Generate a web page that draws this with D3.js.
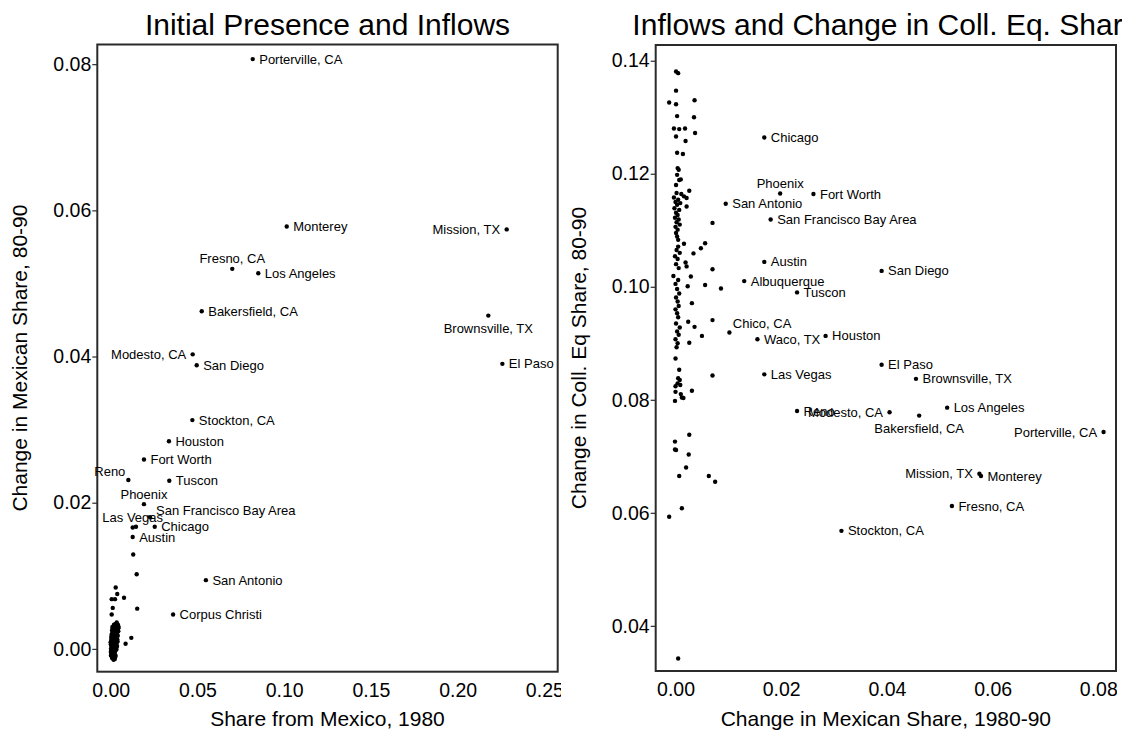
<!DOCTYPE html>
<html>
<head>
<meta charset="utf-8">
<script src="https://cdn.jsdelivr.net/npm/d3@7"></script>
<style>
  body { margin: 0; background: #fff; }
  svg { display: block; font-family: "Liberation Sans", Arial, Helvetica, sans-serif; }
</style>
</head>
<body>
<div id="chart"></div>
<script>
// ---- datos panel izquierdo: Share from Mexico 1980 vs cambio share mexicano ----
const leftCities = ["Porterville, CA", "Monterey", "Mission, TX", "Fresno, CA", "Los Angeles",
  "Bakersfield, CA", "Brownsville, TX", "Modesto, CA", "San Diego", "El Paso", "Stockton, CA",
  "Houston", "Fort Worth", "Reno", "Tuscon", "Phoenix", "San Francisco Bay Area", "Las Vegas",
  "Chicago", "Austin", "San Antonio", "Corpus Christi"]
const leftShare80 = [0.0819, 0.1015, 0.2283, 0.0701, 0.0851, 0.0525, 0.2177, 0.0473, 0.0496, 0.2258,
  0.0471, 0.0336, 0.0192, 0.0102, 0.0338, 0.0192, 0.0227, 0.0127, 0.0254, 0.0127, 0.0549, 0.0360]
const leftDMex = [0.0807, 0.0578, 0.0574, 0.0520, 0.0514, 0.0462, 0.0456, 0.0403, 0.0388, 0.0390,
  0.0313, 0.0284, 0.0259, 0.0231, 0.0230, 0.0198, 0.0180, 0.0166, 0.0167, 0.0153, 0.0094, 0.0047]

// ciudades sin etiqueta
const leftOtherShare80 = [0.0029, 0.0006, 0.0025, 0.0038, 0.0077, 0.0012, 0.0006, 0.0119, 0.0086, 0.0146,
  0.0130, 0.0150, 0.0153,
  0.0035, 0.0042, 0.0028, 0.0046, 0.0019, 0.0033, 0.0012, 0.0039, 0.0024, 0.0008, 0.0044, 0.0030, 0.0016,
  0.0036, 0.0021, 0.0005, 0.0041, 0.0027, 0.0013, 0.0033, 0.0009, 0.0024, 0.0038, 0.0003, 0.0017, 0.0029,
  0.0011, 0.0035, 0.0022, 0.0006, 0.0015, 0.0031, 0.0001, 0.0025, 0.0010, 0.0019, 0.0037, 0.0004, 0.0028,
  0.0014, 0.0007, 0.0021, 0.0002, 0.0033, 0.0011, 0.0017, 0.0005, 0.0026, 0.0001, 0.0013, 0.0022, 0.0008,
  0.0003, 0.0018, 0.0011, 0.0028, 0.0006, 0.0015, 0.0021, 0.0009, 0.0024, 0.0017,
  0.0020, 0.0026, 0.0032, 0.0012, 0.0004, 0.0016, 0.0040, 0.0030, 0.0008, 0.0023, 0.0014, 0.0035, 0.0019,
  0.0010, 0.0044, 0.0027, 0.0000, 0.0002]
const leftOtherDMex = [0.0084, 0.0068, 0.0068, 0.0075, 0.0070, 0.0056, 0.0047, 0.0015, 0.0007, 0.0167,
  0.0129, 0.0102, 0.0055,
  0.0036, 0.0033, 0.0034, 0.0030, 0.0031, 0.0029, 0.0028, 0.0026, 0.0027, 0.0025, 0.0024, 0.0023, 0.0022,
  0.0021, 0.0020, 0.0019, 0.0018, 0.0018, 0.0017, 0.0016, 0.0015, 0.0014, 0.0013, 0.0012, 0.0012, 0.0011,
  0.0010, 0.0009, 0.0009, 0.0008, 0.0007, 0.0007, 0.0006, 0.0005, 0.0005, 0.0004, 0.0004, 0.0003, 0.0002,
  0.0002, 0.0001, 0.0000, 0.0000, -0.0001, -0.0001, -0.0002, -0.0003, -0.0003, -0.0004, -0.0005, -0.0005, -0.0006,
  -0.0007, -0.0008, -0.0009, -0.0009, -0.0010, -0.0011, -0.0012, -0.0013, -0.0014, -0.0015,
  0.0015, 0.0024, 0.0031, 0.0005, 0.0016, 0.0027, 0.0010, 0.0015, 0.0021, -0.0007, -0.0002, 0.0003, 0.0033,
  0.0030, 0.0028, -0.0011, 0.0009, -0.0009]

// ---- datos panel derecho: cambio share mexicano vs cambio share college eq ----
const rightCities = ["Chicago", "Phoenix", "Fort Worth", "San Antonio", "San Francisco Bay Area", "Austin",
  "San Diego", "Albuquerque", "Tuscon", "Chico, CA", "Waco, TX", "Houston", "El Paso", "Las Vegas",
  "Brownsville, TX", "Reno", "Modesto, CA", "Los Angeles", "Bakersfield, CA", "Porterville, CA",
  "Mission, TX", "Monterey", "Fresno, CA", "Stockton, CA"]
const rightDMex = [0.0168, 0.0198, 0.0261, 0.0095, 0.0180, 0.0168, 0.0390, 0.0130, 0.0230, 0.0102, 0.0155,
  0.0284, 0.0390, 0.0168, 0.0455, 0.0230, 0.0405, 0.0514, 0.0461, 0.0810, 0.0575, 0.0578, 0.0523, 0.0314]
const rightDColl = [0.1264, 0.1165, 0.1164, 0.1147, 0.1119, 0.1044, 0.1028, 0.1010, 0.0990, 0.0919, 0.0907,
  0.0913, 0.0862, 0.0845, 0.0837, 0.0780, 0.0778, 0.0786, 0.0772, 0.0743, 0.0669, 0.0665, 0.0612, 0.0568]

const rightOtherDMex = [0.0001, 0.0005, 0.0001, -0.0012, 0.0001, 0.0036, 0.0003, 0.0035, -0.0003, 0.0007,
  0.0018, 0.0001, 0.0019, 0.0037, 0.0003, 0.0014, 0.0004, 0.0006, 0.0003, 0.0010, 0.0007, 0.0001, 0.0026,
  0.0002, 0.0011, 0.0016, -0.0003, 0.0021, 0.0005, 0.0000, 0.0009, 0.0003, 0.0021, -0.0002, 0.0007, 0.0001,
  0.0004, -0.0001, 0.0006, 0.0002, 0.0070, 0.0008, 0.0000, 0.0004, 0.0001, 0.0003, 0.0005,
  0.0016, 0.0056, 0.0048, 0.0034, 0.0005, 0.0002, 0.0008, -0.0001, 0.0004, 0.0019, 0.0021, 0.0070, 0.0001,
  0.0006, -0.0004, 0.0005, 0.0029, 0.0000, 0.0023, 0.0056, 0.0086, 0.0003, 0.0007, 0.0001, 0.0004, 0.0031,
  0.0006, 0.0000, 0.0003, 0.0005, 0.0070, 0.0024, 0.0036, 0.0001, 0.0008, 0.0003, 0.0050, 0.0006, 0.0026,
  0.0000, 0.0004, 0.0002,
  0.0000, 0.0007, 0.0005, 0.0008, 0.0070, 0.0004, 0.0000, 0.0009, 0.0031, 0.0000, 0.0010, 0.0015, 0.0012,
  -0.0001, -0.0001, 0.0001, -0.0001, 0.0026, 0.0025, 0.0020, 0.0007, 0.0063, 0.0075, 0.0012, -0.0012, 0.0005]
const rightOtherDColl = [0.1381, 0.1378, 0.1347, 0.1326, 0.1323, 0.1330, 0.1302, 0.1300, 0.1280, 0.1279,
  0.1280, 0.1266, 0.1258, 0.1272, 0.1237, 0.1235, 0.1210, 0.1207, 0.1198, 0.1190, 0.1189, 0.1180, 0.1170,
  0.1166, 0.1164, 0.1160, 0.1158, 0.1157, 0.1154, 0.1150, 0.1148, 0.1145, 0.1142, 0.1139, 0.1136, 0.1131,
  0.1127, 0.1122, 0.1119, 0.1114, 0.1113, 0.1110, 0.1106, 0.1101, 0.1095, 0.1089, 0.1083,
  0.1076, 0.1077, 0.1068, 0.1059, 0.1071, 0.1065, 0.1060, 0.1054, 0.1049, 0.1043, 0.1036, 0.1031, 0.1040,
  0.1033, 0.1019, 0.1012, 0.1018, 0.1005, 0.1001, 0.1003, 0.0997, 0.0996, 0.0988, 0.0981, 0.0974, 0.0971,
  0.0966, 0.0960, 0.0953, 0.0946, 0.0941, 0.0938, 0.0929, 0.0935, 0.0928, 0.0921, 0.0913, 0.0915, 0.0901,
  0.0907, 0.0900, 0.0893,
  0.0873, 0.0853, 0.0838, 0.0835, 0.0843, 0.0829, 0.0824, 0.0826, 0.0816, 0.0814, 0.0810, 0.0803, 0.0804,
  0.0798, 0.0726, 0.0711, 0.0712, 0.0738, 0.0703, 0.0680, 0.0665, 0.0665, 0.0655, 0.0608, 0.0593, 0.0342]

// posicion de etiqueta tipo reloj (como mlabposition de Stata)
const labelClock = {
  left: { "Mission, TX": 9, "Fresno, CA": 12, "Brownsville, TX": 6, "Modesto, CA": 9, "Reno": 10,
          "Phoenix": 12, "San Francisco Bay Area": 2, "Las Vegas": 12 },
  right: { "Phoenix": 12, "Chico, CA": 1, "Modesto, CA": 9, "Bakersfield, CA": 6,
           "Porterville, CA": 9, "Mission, TX": 9 }
}

const leftTicksX = [0, 0.05, 0.10, 0.15, 0.20, 0.25]
const leftTicksY = [0, 0.02, 0.04, 0.06, 0.08]
const rightTicksX = [0, 0.02, 0.04, 0.06, 0.08]
const rightTicksY = [0.04, 0.06, 0.08, 0.10, 0.12, 0.14]

const W = 1122, H = 738
const svg = d3.select("#chart").append("svg").attr("width", W).attr("height", H)
svg.append("rect").attr("width", W).attr("height", H).attr("fill", "#fff")
const defs = svg.append("defs")

const fmt = d3.format(".2f")

const offsets = (pos) => {
  switch (pos) {
    case 9: return { dx: -6.5, dy: 0, anchor: "end" }
    case 12: return { dx: 0, dy: -10, anchor: "middle" }
    case 6: return { dx: 0, dy: 12.5, anchor: "middle" }
    case 10: return { dx: -3, dy: -8.6, anchor: "end" }
    case 2: return { dx: 6, dy: -6.6, anchor: "start" }
    case 1: return { dx: 3.4, dy: -9, anchor: "start" }
    default: return { dx: 6.5, dy: 0, anchor: "start" }
  }
}

const drawPanel = (cfg) => {
  const x = d3.scaleLinear().domain(cfg.xDom).range([cfg.left, cfg.right])
  const y = d3.scaleLinear().domain(cfg.yDom).range([cfg.bottom, cfg.top])
  const g = svg.append("g")

  // titulo
  g.append("text")
    .attr("x", (cfg.left + cfg.right) / 2).attr("y", 35)
    .attr("text-anchor", "middle").attr("font-size", 30).attr("fill", "#000")
    .text(cfg.title)

  // eje y (ticks hacia fuera)
  const yAxis = g.append("g")
    .attr("transform", `translate(${cfg.left},0)`)
    .call(d3.axisLeft(y).tickValues(cfg.yTicks).tickFormat(fmt).tickSize(5).tickPadding(1))
  yAxis.select(".domain").remove()
  yAxis.selectAll("text").attr("font-size", 19.5).attr("font-family", null).attr("fill", "#000")

  // eje x (ticks hacia dentro), etiquetas recortadas
  defs.append("clipPath").attr("id", cfg.id + "clip")
    .append("rect").attr("x", cfg.clipLeft).attr("y", 0).attr("width", cfg.clipRight - cfg.clipLeft).attr("height", H)
  const xAxis = g.append("g")
    .attr("clip-path", `url(#${cfg.id}clip)`)
    .attr("transform", `translate(0,${cfg.bottom})`)
    .call(d3.axisBottom(x).tickValues(cfg.xTicks).tickFormat(fmt).tickSize(-6).tickPadding(11))
  xAxis.select(".domain").remove()
  xAxis.selectAll("text").attr("font-size", 19.5).attr("font-family", null).attr("fill", "#000")

  // marco
  g.append("rect")
    .attr("x", cfg.left).attr("y", cfg.top)
    .attr("width", cfg.right - cfg.left).attr("height", cfg.bottom - cfg.top)
    .attr("fill", "none").attr("stroke", "#2a2a2a").attr("stroke-width", 2)

  // titulos de ejes
  g.append("text")
    .attr("x", (cfg.left + cfg.right) / 2).attr("y", 726)
    .attr("text-anchor", "middle").attr("font-size", 21).text(cfg.xTitle)
  g.append("text")
    .attr("transform", `translate(${cfg.yTitleX},${(cfg.top + cfg.bottom) / 2}) rotate(-90)`)
    .attr("text-anchor", "middle").attr("font-size", 21).text(cfg.yTitle)

  // puntos sin etiqueta
  g.append("g").selectAll("circle")
    .data(d3.range(cfg.otherX.length))
    .join("circle")
    .attr("cx", (i) => x(cfg.otherX[i]))
    .attr("cy", (i) => y(cfg.otherY[i]))
    .attr("r", 2.2).attr("fill", "#000")

  // puntos con etiqueta
  const lab = g.append("g").selectAll("g")
    .data(d3.range(cfg.names.length))
    .join("g")
  lab.append("circle")
    .attr("cx", (i) => x(cfg.xs[i]))
    .attr("cy", (i) => y(cfg.ys[i]))
    .attr("r", 2.2).attr("fill", "#000")
  lab.append("text")
    .each(function (i) {
      const o = offsets(cfg.clock[cfg.names[i]] || 3)
      d3.select(this)
        .attr("x", x(cfg.xs[i]) + o.dx)
        .attr("y", y(cfg.ys[i]) + o.dy)
        .attr("dy", "0.35em")
        .attr("text-anchor", o.anchor)
    })
    .attr("font-size", 13).attr("fill", "#000")
    .text((i) => cfg.names[i])
}

drawPanel({
  id: "izq", title: "Initial Presence and Inflows",
  left: 97.3, right: 557.7, top: 44.5, bottom: 671.7,
  xDom: [-0.0077, 0.2577], yDom: [-0.00313, 0.0827],
  xTicks: leftTicksX, yTicks: leftTicksY, clipLeft: 0, clipRight: 561,
  xTitle: "Share from Mexico, 1980", yTitle: "Change in Mexican Share, 80-90", yTitleX: 27,
  names: leftCities, xs: leftShare80, ys: leftDMex, clock: labelClock.left,
  otherX: leftOtherShare80, otherY: leftOtherDMex
})

drawPanel({
  id: "der", title: "Inflows and Change in Coll. Eq. Share",
  left: 655.7, right: 1116, top: 45, bottom: 671,
  xDom: [-0.00375, 0.08335], yDom: [0.0320, 0.14278],
  xTicks: rightTicksX, yTicks: rightTicksY, clipLeft: 561, clipRight: 1117,
  xTitle: "Change in Mexican Share, 1980-90", yTitle: "Change in Coll. Eq Share, 80-90", yTitleX: 586,
  names: rightCities, xs: rightDMex, ys: rightDColl, clock: labelClock.right,
  otherX: rightOtherDMex, otherY: rightOtherDColl
})
</script>
</body>
</html>
